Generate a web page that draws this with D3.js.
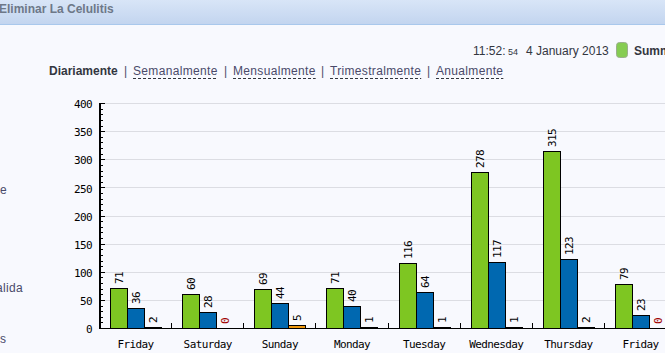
<!DOCTYPE html>
<html>
<head>
<meta charset="utf-8">
<script src="https://cdnjs.cloudflare.com/ajax/libs/d3/7.8.5/d3.min.js"></script>
<style>
html, body { margin: 0; padding: 0; background: #f8f9fe; overflow: hidden; }
svg { display: block; }
.ui { font-family: "Liberation Sans", Arial, sans-serif; font-size: 12px; fill: #33363f; }
.link { letter-spacing: 0.33px; fill: #4a4a6a; }
.mono { font-family: "DejaVu Sans Mono", monospace; font-size: 11px; letter-spacing: -0.6px; fill: #000; }
</style>
</head>
<body>
<div id="chart"></div>
<script>
var days = ["Friday","Saturday","Sunday","Monday","Tuesday","Wednesday","Thursday","Friday"];
var green_vals = [71,60,69,71,116,278,315,79];
var blue_vals = [36,28,44,40,64,117,123,23];
var orange_vals = [2,0,5,1,1,1,2,0];
var y_ticks = [0,50,100,150,200,250,300,350,400];
var links = ["Semanalmente","Mensualmente","Trimestralmente","Anualmente"];
var link_x = [133,233,330,436];
var sep_x = [124,224,321,427];
var side_labels = [["e",0,190],["alida",-4,288],["s",0,339]];

var series = [
  {vals: green_vals, color: "#7ec622"},
  {vals: blue_vals, color: "#0068b0"},
  {vals: orange_vals, color: "#f09a10"}
];

var svg = d3.select("#chart").append("svg")
  .attr("width", 665)
  .attr("height", 353);

var defs = svg.append("defs");

var grad = defs.append("linearGradient")
  .attr("id", "head")
  .attr("x1", "0%").attr("x2", "0%")
  .attr("y1", "0%").attr("y2", "100%");
grad.append("stop").attr("offset", "0%").style("stop-color", "#d8e5f7");
grad.append("stop").attr("offset", "100%").style("stop-color", "#c3d5ef");

//Page header band
svg.append("rect").attr("width", 665).attr("height", 24).style("fill", "url(#head)");
svg.append("rect").attr("y", 24).attr("width", 665).attr("height", 1).style("fill", "#a9c8ec");
svg.append("text").attr("x", -1).attr("y", 13).attr("class", "ui")
  .style("font-weight", "bold").style("fill", "#6d7888").text("Eliminar La Celulitis");

//Clock row
svg.append("text").attr("x", 473).attr("y", 55).attr("class", "ui").text("11:52:");
svg.append("text").attr("x", 508).attr("y", 55).attr("class", "ui").style("font-size", "9px").text("54");
svg.append("text").attr("x", 526).attr("y", 55).attr("class", "ui").text("4 January 2013");
svg.append("rect").attr("x", 616.5).attr("y", 42.5).attr("width", 11).attr("height", 15).attr("rx", 3)
  .style("fill", "#86cc52").style("stroke", "#9aaf8c").style("stroke-width", 1);
svg.append("text").attr("x", 634).attr("y", 55).attr("class", "ui")
  .style("font-weight", "bold").text("Summary");

//Period links
svg.append("text").attr("x", 49).attr("y", 75).attr("class", "ui")
  .style("font-weight", "bold").text("Diariamente");
sep_x.forEach(function(x){
  svg.append("text").attr("x", x).attr("y", 75).attr("class", "ui").style("fill", "#4a4a6a").text("|");
});
links.forEach(function(d, i){
  var t = svg.append("text").attr("x", link_x[i]).attr("y", 75).attr("class", "ui link").text(d);
  var w = t.node().getComputedTextLength();
  svg.append("line")
    .attr("x1", link_x[i]).attr("x2", link_x[i] + w)
    .attr("y1", 78.5).attr("y2", 78.5)
    .style("stroke", "#33363f")
    .style("stroke-dasharray", "3,2");
});

//Cut off sidebar labels
side_labels.forEach(function(d){
  svg.append("text").attr("x", d[1]).attr("y", d[2] + 4).attr("class", "ui link")
    .text(d[0]);
});

var x = d3.scaleBand()
  .domain(d3.range(days.length))
  .range([99.5, 99.5 + 8 * 72.14])
  .paddingInner(0);

var y = d3.scaleLinear()
  .domain([0, 400])
  .range([328, 103]);

//Grid lines
svg.selectAll(".grid")
  .data(y_ticks.slice(1))
  .enter()
  .append("line")
  .attr("x1", 100).attr("x2", 665)
  .attr("y1", function(d){ return Math.round(y(d)) + 0.5; })
  .attr("y2", function(d){ return Math.round(y(d)) + 0.5; })
  .style("stroke", "#dcdde3");

var group = svg.selectAll(".day")
  .data(days)
  .enter()
  .append("g");

var bar_w = 17;
var bar_off = 10.5;

series.forEach(function(s, si){
  group.each(function(d, i){
    var v = s.vals[i];
    var bx = Math.round(x(i) + bar_off) + si * bar_w;
    var g = d3.select(this);
    var top = Math.round(y(v));
    if (v > 0) {
      g.append("rect")
        .attr("x", bx + 0.5)
        .attr("y", top + 0.5)
        .attr("width", bar_w)
        .attr("height", 328 - top)
        .style("fill", s.color)
        .style("stroke", "#000")
        .style("stroke-width", 1);
    }
    g.append("text")
      .attr("class", "mono")
      .attr("transform", "translate(" + (bx + 13) + "," + (top - 4) + ") rotate(-90)")
      .style("fill", v === 0 ? "#a00000" : "#000")
      .text(v);
  });
});

//Axes
var y_axis = d3.axisLeft(y)
  .tickValues(y_ticks)
  .tickSize(0)
  .tickFormat(d3.format("d"));

var y_g = svg.append("g")
  .attr("transform", "translate(100,0)")
  .call(y_axis);
y_g.select(".domain").style("stroke", "#000").style("stroke-width", 2).attr("d", "M0,103V329");
y_g.selectAll("text").attr("class", "mono").attr("x", -8).attr("dy", "0.42em");

//Minor ticks every 10, major every 50, both point into the plot
svg.selectAll(".ytick")
  .data(d3.range(0, 401, 10))
  .enter()
  .append("line")
  .attr("x1", 100)
  .attr("x2", function(d){ return d % 50 === 0 ? 105 : 103; })
  .attr("y1", function(d){ return Math.round(y(d)) + 0.5; })
  .attr("y2", function(d){ return Math.round(y(d)) + 0.5; })
  .style("stroke", "#000");

svg.append("line")
  .attr("x1", 100).attr("x2", 665)
  .attr("y1", 328.5).attr("y2", 328.5)
  .style("stroke", "#000");

//Group separators sit above the baseline
svg.selectAll(".xtick")
  .data(d3.range(1, days.length))
  .enter()
  .append("line")
  .attr("x1", function(d){ return Math.floor(x(d)) + 0.5; })
  .attr("x2", function(d){ return Math.floor(x(d)) + 0.5; })
  .attr("y1", 323).attr("y2", 328)
  .style("stroke", "#000");

svg.selectAll(".xlabel")
  .data(days)
  .enter()
  .append("text")
  .attr("class", "mono")
  .attr("x", function(d, i){ return x(i) + x.bandwidth() / 2; })
  .attr("y", 348)
  .attr("text-anchor", "middle")
  .text(function(d){ return d; });
</script>
</body>
</html>
